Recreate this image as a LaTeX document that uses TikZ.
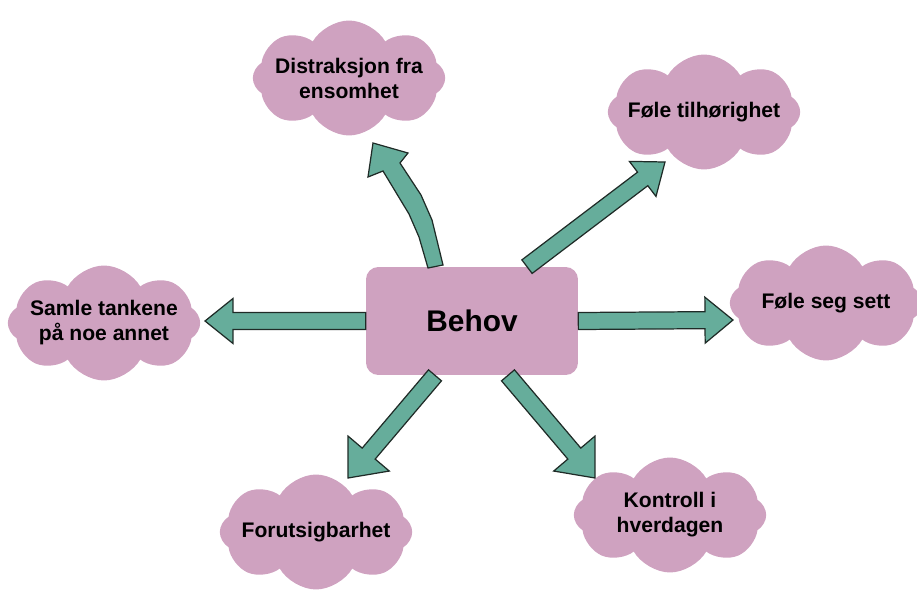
\documentclass[tikz,border=0pt]{standalone}
\usepackage{fontspec}
\setmainfont{Liberation Sans}
\usetikzlibrary{shapes.symbols, calc}

\definecolor{cloudpink}{HTML}{CFA2C0}
\definecolor{arrowteal}{HTML}{66AD9B}
\definecolor{arrowedge}{HTML}{1F2B27}

% block arrow: #1 base, #2 tip, #3 half head width, #4 head length
\newcommand{\fatarrow}[4]{%
  \coordinate (hb) at ($(#2)!#4!(#1)$);
  \filldraw[blockarrow] ($(#1)!0.17cm!90:(#2)$) -- ($(hb)!0.17cm!90:(#2)$)
    -- ($(hb)!#3!90:(#2)$) -- (#2) -- ($(hb)!#3!-90:(#2)$)
    -- ($(hb)!0.17cm!-90:(#2)$) -- ($(#1)!0.17cm!-90:(#2)$) -- cycle;
}

\begin{document}
\begin{tikzpicture}[
    x=0.02cm, y=-0.02cm,
    cloudnode/.style={cloud, cloud puffs=8, cloud puff arc=120,
        fill=cloudpink, draw=none, minimum width=3.85cm,
        minimum height=2.3cm, inner sep=0pt},
    cloudtext/.style={font=\bfseries\fontsize{12}{14.2}\selectfont,
        align=center},
    mainnode/.style={rectangle, rounded corners=7pt, fill=cloudpink,
        minimum width=4.24cm, minimum height=2.16cm,
        font=\bfseries\fontsize{17}{20}\selectfont},
    blockarrow/.style={fill=arrowteal, draw=arrowedge, line width=0.7pt,
        line join=miter}
]
\useasboundingbox (0,0) rectangle (917,592);

% Nodes
\node[mainnode] (behov) at (472,321) {Behov};
\node[cloudnode, label={[cloudtext]center:Distraksjon fra\\ensomhet}]
    (distraksjon) at (349,78) {};
\node[cloudnode, label={[cloudtext]center:Føle tilhørighet}]
    (tilhorighet) at (704,112) {};
\node[cloudnode, label={[cloudtext]center:Samle tankene\\på noe annet}]
    (samle) at (104,323) {};
\node[cloudnode, label={[cloudtext]center:Føle seg sett}]
    (sett) at (826,303) {};
\node[cloudnode, label={[cloudtext]center:Forutsigbarhet}]
    (forutsigbarhet) at (316,532) {};
\node[cloudnode, label={[cloudtext]center:Kontroll i\\hverdagen}]
    (kontroll) at (670,515) {};

% Arrow ends
\coordinate (s_tilh) at ($(behov.north)+(55,0)$);
\coordinate (t_tilh) at (665,162);
\coordinate (s_samle) at (behov.west);
\coordinate (t_samle) at (205,321);
\coordinate (s_sett) at (behov.east);
\coordinate (t_sett) at (733,320);
\coordinate (s_forut) at ($(behov.south)+(-37,0)$);
\coordinate (t_forut) at (348,478);
\coordinate (s_kontroll) at ($(behov.south)+(36,0)$);
\coordinate (t_kontroll) at (595,478);
\coordinate (t_distr) at (373,143);

% Arrows
\fatarrow{s_tilh}{t_tilh}{0.44cm}{0.56cm}
\fatarrow{s_samle}{t_samle}{0.45cm}{0.56cm}
\fatarrow{s_sett}{t_sett}{0.46cm}{0.56cm}
\fatarrow{s_forut}{t_forut}{0.54cm}{0.64cm}
\fatarrow{s_kontroll}{t_kontroll}{0.54cm}{0.64cm}
\filldraw[blockarrow] (428,268) -- (419,237) -- (409,214) -- (383,171)
    -- (368,177) -- (t_distr) -- (408,153) -- (400,163) -- (421,195)
    -- (432,220) -- (443,265) -- cycle;

\end{tikzpicture}
\end{document}
